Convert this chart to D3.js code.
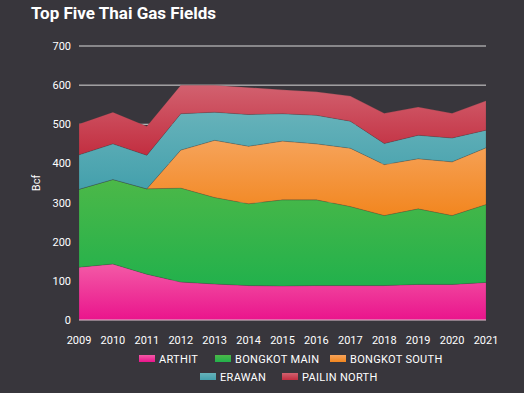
<!DOCTYPE html>
<html>
<head>
<meta charset="utf-8">
<script src="https://cdn.jsdelivr.net/npm/d3@7"></script>
<style>
  body { margin: 0; background: #38363c; }
  svg { display: block; font-family: Roboto, "Noto Sans", sans-serif; }
</style>
</head>
<body>
<svg id="chart" width="524" height="393"></svg>
<script>
// DATA
const years = [2009, 2010, 2011, 2012, 2013, 2014, 2015, 2016, 2017, 2018, 2019, 2020, 2021];
const fields = ["ARTHIT", "BONGKOT MAIN", "BONGKOT SOUTH", "ERAWAN", "PAILIN NORTH"];
const arthit       = [135, 143, 117, 97, 92, 88, 87, 88, 88, 88, 91, 91, 96];
const bongkotMain  = [199, 216, 218, 240, 221, 209, 220, 219, 202, 179, 193, 176, 199];
const bongkotSouth = [0, 0, 0, 97, 146, 147, 150, 143, 149, 130, 128, 137, 145];
const erawan       = [88, 91, 86, 93, 72, 81, 70, 73, 69, 54, 60, 61, 45];
const pailinNorth  = [79, 81, 74, 73, 69, 69, 61, 60, 64, 77, 72, 63, 75];
const yTicks = [0, 100, 200, 300, 400, 500, 600, 700];

// colours [top, bottom] of each gradient
const colors = [
  ["#f35aa6", "#ea148c"],
  ["#4cb848", "#22b14c"],
  ["#f6a35a", "#f2861f"],
  ["#66b2ba", "#44a0ac"],
  ["#d2616f", "#c22e40"]
];

const series_values = [arthit, bongkotMain, bongkotSouth, erawan, pailinNorth];
const table = years.map((y, i) => {
  let row = {year: y};
  fields.forEach((f, k) => row[f] = series_values[k][i]);
  return row;
});

const svg = d3.select("#chart");
const margin = {left: 79, right: 38, top: 46, bottom: 73};
const width = 524, height = 393;

const x = d3.scaleLinear().domain([2009, 2021]).range([margin.left, width - margin.right]);
const y = d3.scaleLinear().domain([0, 700]).range([height - margin.bottom, margin.top]);

// title
svg.append("text")
  .attr("x", 31).attr("y", 19)
  .attr("fill", "#fff")
  .attr("font-size", 17).attr("font-weight", "bold")
  .text("Top Five Thai Gas Fields");

// gradients
let defs = svg.append("defs");
colors.forEach((c, i) => {
  let g = defs.append("linearGradient").attr("id", "grad" + i)
    .attr("x1", 0).attr("y1", 0).attr("x2", 0).attr("y2", 1);
  g.append("stop").attr("offset", "0%").attr("stop-color", c[0]);
  g.append("stop").attr("offset", "100%").attr("stop-color", c[1]);
});

// grid
svg.append("g")
  .selectAll("line")
  .data(yTicks.slice(1))
  .join("line")
  .attr("x1", margin.left).attr("x2", width - margin.right)
  .attr("y1", d => y(d)).attr("y2", d => y(d))
  .attr("stroke", "#d8d8d8").attr("stroke-width", 1);

// y tick labels
svg.append("g")
  .selectAll("text")
  .data(yTicks)
  .join("text")
  .attr("x", 71).attr("y", d => y(d) + 4)
  .attr("text-anchor", "end")
  .attr("fill", "#fff").attr("font-size", 11)
  .text(d => d);

svg.append("text")
  .attr("transform", `translate(40, ${y(350)}) rotate(-90)`)
  .attr("text-anchor", "middle")
  .attr("fill", "#fff").attr("font-size", 11)
  .text("Bcf");

// stacked areas
const stack = d3.stack().keys(fields);
const layers = stack(table);
const area = d3.area()
  .x(d => x(d.data.year))
  .y0(d => y(d[0]))
  .y1(d => y(d[1]));

svg.append("g")
  .selectAll("path")
  .data(layers)
  .join("path")
  .attr("d", area)
  .attr("fill", (d, i) => `url(#grad${i})`)
  .attr("stroke", "rgba(60,60,60,0.35)")
  .attr("stroke-width", 0.6);

// baseline
svg.append("line")
  .attr("x1", margin.left).attr("x2", width - margin.right)
  .attr("y1", y(0)).attr("y2", y(0))
  .attr("stroke", "#e6c3d6").attr("stroke-width", 1.2);

// x labels
svg.append("g")
  .selectAll("text")
  .data(years)
  .join("text")
  .attr("x", d => x(d)).attr("y", 344)
  .attr("text-anchor", "middle")
  .attr("fill", "#fff").attr("font-size", 11)
  .text(d => d);

// legend
const legendPos = [
  {x: 139, y: 359}, {x: 215, y: 359}, {x: 330, y: 359},
  {x: 200, y: 377}, {x: 282, y: 377}
];
let lg = svg.append("g")
  .selectAll("g")
  .data(fields)
  .join("g")
  .attr("transform", (d, i) => `translate(${legendPos[i].x}, ${legendPos[i].y})`);
lg.append("rect")
  .attr("x", 0).attr("y", -4).attr("width", 16).attr("height", 7)
  .attr("fill", (d, i) => `url(#grad${i})`);
lg.append("text")
  .attr("x", 20).attr("y", 4)
  .attr("fill", "#fff").attr("font-size", 11)
  .attr("letter-spacing", 0.3)
  .text(d => d);
</script>
</body>
</html>
